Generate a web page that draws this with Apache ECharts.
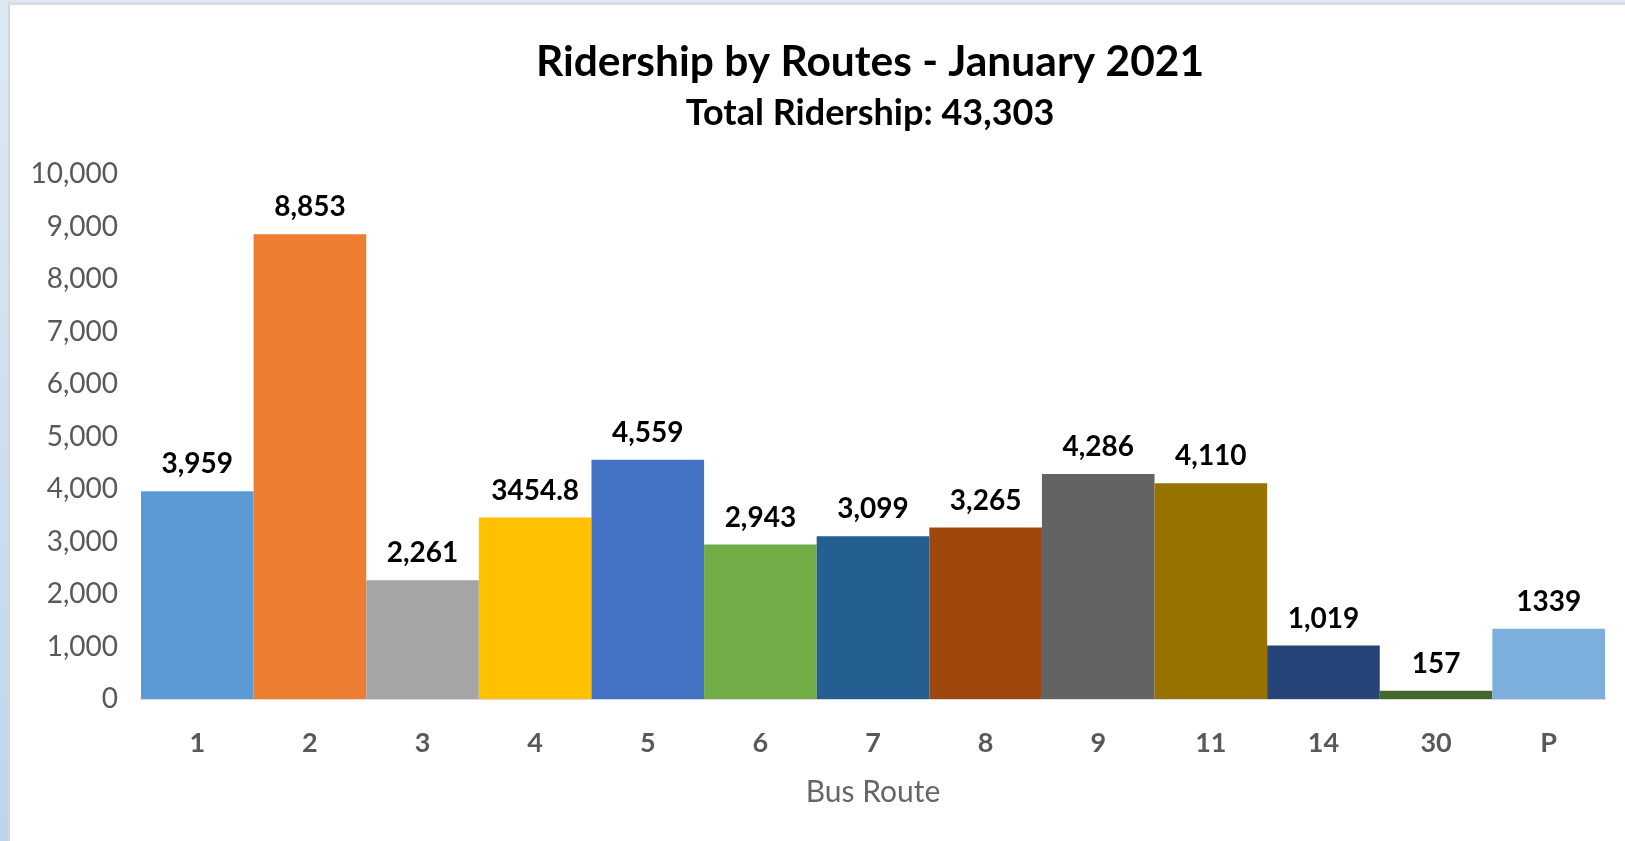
<!DOCTYPE html>
<html>
<head>
    <meta charset="UTF-8">
    <title>Ridership by Routes</title>
    <script src="https://cdn.jsdelivr.net/npm/echarts@6/dist/echarts.min.js"></script>
    <style>
        html, body {margin: 0; padding: 0; background: #fff;}
        #chart {width: 1625px; height: 841px;}
    </style>
</head>
<body>

<div id="chart"></div>

<script>
    // bus routes and January 2021 ridership
    var routes = ['1', '2', '3', '4', '5', '6', '7', '8', '9', '11', '14', '30', 'P'];
    var riders = [3959, 8853, 2261, 3454.8, 4559, 2943, 3099, 3265, 4286, 4110, 1019, 157, 1339];
    // labels as printed on the chart (some without thousands separator)
    var riderLabels = ['3,959', '8,853', '2,261', '3454.8', '4,559', '2,943', '3,099', '3,265', '4,286', '4,110', '1,019', '157', '1339'];
    var barColors = ['#5B9BD5', '#ED7D31', '#A5A5A5', '#FFC000', '#4472C4', '#70AD47', '#255E91',
                     '#9E480E', '#636363', '#997300', '#264478', '#43682B', '#7CAFDD'];

    var fontName = 'Lato';
    var myChart = echarts.init(document.getElementById('chart'));

    var barData = riders.map(function (v, i) {
        return {value: v, itemStyle: {color: barColors[i]}};
    });

    var option = {
        backgroundColor: '#fff',
        animation: false,
        textStyle: {fontFamily: fontName},
        title: [{
            text: 'Ridership by Routes - January 2021',
            left: 865,
            top: 36,
            textAlign: 'center',
            textStyle: {fontFamily: fontName, fontSize: 42.5, fontWeight: 'bold', color: '#000'}
        }, {
            text: 'Total Ridership: 43,303',
            left: 865,
            top: 90,
            textAlign: 'center',
            textStyle: {fontFamily: fontName, fontSize: 36, fontWeight: 'bold', color: '#000'}
        }],
        // window frame edges
        graphic: [{
            type: 'rect',
            left: 0, top: 0,
            shape: {width: 8, height: 841},
            style: {fill: new echarts.graphic.LinearGradient(0, 0, 0, 1, [
                {offset: 0, color: '#dce9f5'}, {offset: 1, color: '#bcd5ec'}])},
            silent: true
        }, {
            type: 'rect',
            left: 8, top: 0,
            shape: {width: 2, height: 841},
            style: {fill: '#d6d6d6'},
            silent: true
        }, {
            type: 'rect',
            left: 0, top: 0,
            shape: {width: 1625, height: 2},
            style: {fill: '#dce9f5'},
            silent: true
        }, {
            type: 'rect',
            left: 8, top: 2,
            shape: {width: 1617, height: 3},
            style: {fill: '#d9dde2'},
            silent: true
        }],
        grid: {
            left: 141,
            right: 20,
            top: 174,
            bottom: 142,
            containLabel: false
        },
        xAxis: {
            type: 'category',
            data: routes,
            name: 'Bus Route',
            nameLocation: 'middle',
            nameGap: 78,
            nameTextStyle: {fontFamily: fontName, fontSize: 30, color: '#666'},
            axisLine: {lineStyle: {color: '#d9d9d9', width: 2}},
            axisTick: {show: false},
            axisLabel: {
                margin: 31,
                fontFamily: fontName,
                fontSize: 27,
                fontWeight: 'bold',
                color: '#595959'
            }
        },
        yAxis: {
            type: 'value',
            min: 0,
            max: 10000,
            interval: 1000,
            splitLine: {show: false},
            axisLine: {show: false},
            axisTick: {show: false},
            axisLabel: {
                margin: 23,
                fontFamily: fontName,
                fontSize: 28,
                color: '#595959',
                formatter: function (v) { return v.toLocaleString('en-US'); }
            }
        },
        series: [{
            type: 'bar',
            data: barData,
            barCategoryGap: '0%',
            label: {
                show: true,
                position: 'top',
                distance: 13,
                fontFamily: fontName,
                fontSize: 28,
                fontWeight: 'bold',
                color: '#000',
                formatter: function (p) { return riderLabels[p.dataIndex]; }
            }
        }]
    };
    myChart.setOption(option);
</script>

</body>
</html>
